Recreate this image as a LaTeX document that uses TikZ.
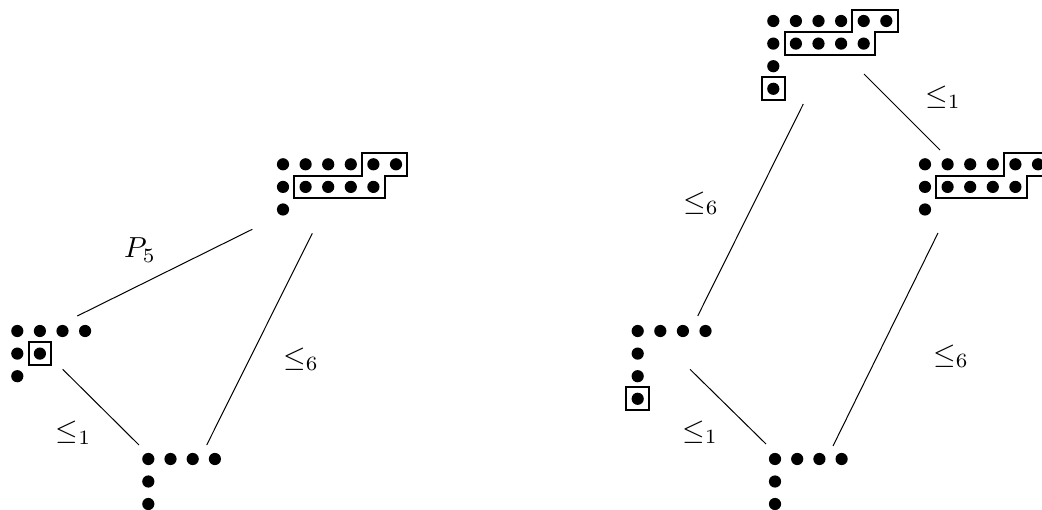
\documentclass[tikz,border=0pt]{standalone}
\begin{document}
\begin{tikzpicture}[x=1pt,y=-1pt,
  boxline/.style={line width=2pt, line join=miter},
  link/.style={line width=1pt},
  lab/.style={scale=2.9, inner sep=0pt}]
\useasboundingbox (0,0) rectangle (1042,510);
\clip (0,0) rectangle (1042,510);
\def\s{22.6}
\def\h{11.3}
\def\r{6.1pt}
% ---------- left diagram ----------
% G1: top group with staircase
\begin{scope}[shift={(283,164.3)}]
  \foreach \c/\rr in {0/0,1/0,2/0,3/0,4/0,5/0,0/1,1/1,2/1,3/1,4/1,0/2}
    \fill (\c*\s,\rr*\s) circle[radius=\r];
  \draw[boxline] (4*\s-\h,-\h) -- ++(2*\s,0) -- ++(0,\s) -- ++(-\s,0) -- ++(0,\s)
    -- ++(-4*\s,0) -- ++(0,-\s) -- ++(3*\s,0) -- cycle;
\end{scope}
% G2: left group
\begin{scope}[shift={(17.3,331)}]
  \foreach \c/\rr in {0/0,1/0,2/0,3/0,0/1,1/1,0/2}
    \fill (\c*\s,\rr*\s) circle[radius=\r];
  \draw[boxline] (\s-\h,\s-\h) rectangle (\s+\h,\s+\h);
\end{scope}
% G3: bottom group
\begin{scope}[shift={(148.3,459)}]
  \foreach \c/\rr in {0/0,1/0,2/0,3/0,0/1,0/2}
    \fill (\c*22.2,\rr*22.5) circle[radius=\r];
\end{scope}
% ---------- right diagram ----------
% G4: top group
\begin{scope}[shift={(773.3,21)}]
  \foreach \c/\rr in {0/0,1/0,2/0,3/0,4/0,5/0,0/1,1/1,2/1,3/1,4/1,0/2,0/3}
    \fill (\c*\s,\rr*\s) circle[radius=\r];
  \draw[boxline] (4*\s-\h,-\h) -- ++(2*\s,0) -- ++(0,\s) -- ++(-\s,0) -- ++(0,\s)
    -- ++(-4*\s,0) -- ++(0,-\s) -- ++(3*\s,0) -- cycle;
  \draw[boxline] (-\h,3*\s-\h) rectangle (\h,3*\s+\h);
\end{scope}
% G5: right-middle group
\begin{scope}[shift={(925,164.3)}]
  \foreach \c/\rr in {0/0,1/0,2/0,3/0,4/0,5/0,0/1,1/1,2/1,3/1,4/1,0/2}
    \fill (\c*\s,\rr*\s) circle[radius=\r];
  \draw[boxline] (4*\s-\h,-\h) -- ++(2*\s,0) -- ++(0,\s) -- ++(-\s,0) -- ++(0,\s)
    -- ++(-4*\s,0) -- ++(0,-\s) -- ++(3*\s,0) -- cycle;
\end{scope}
% G6: right-left group
\begin{scope}[shift={(637.7,331)}]
  \foreach \c/\rr in {0/0,1/0,2/0,3/0,0/1,0/2,0/3}
    \fill (\c*\s,\rr*\s) circle[radius=\r];
  \draw[boxline] (-\h,3*\s-\h) rectangle (\h,3*\s+\h);
\end{scope}
% G7: right-bottom group
\begin{scope}[shift={(775,459)}]
  \foreach \c/\rr in {0/0,1/0,2/0,3/0,0/1,0/2}
    \fill (\c*22.2,\rr*22.5) circle[radius=\r];
\end{scope}
% ---------- connectors ----------
\coordinate (a1) at (252.3,229.3); \coordinate (a2) at (77.3,316);
\coordinate (b1) at (312.3,233.3); \coordinate (b2) at (206.7,445);
\coordinate (c1) at (62.7,369.3);  \coordinate (c2) at (139,445);
\coordinate (d1) at (803.3,104);   \coordinate (d2) at (697.7,316);
\coordinate (e1) at (864,74);      \coordinate (e2) at (940,150);
\coordinate (f1) at (938,233);     \coordinate (f2) at (833,446);
\coordinate (g1) at (690,369.3);   \coordinate (g2) at (766,444);
\draw[link] (a1) -- (a2);
\draw[link] (b1) -- (b2);
\draw[link] (c1) -- (c2);
\draw[link] (d1) -- (d2);
\draw[link] (e1) -- (e2);
\draw[link] (f1) -- (f2);
\draw[link] (g1) -- (g2);
% ---------- labels ----------
\node[lab] (lp5) at (140,250) {$P_5$};
\node[lab] (l1a) at (73.5,432.7) {$\leq_1$};
\node[lab] (l6a) at (301,359) {$\leq_6$};
\node[lab] (l6b) at (701,203) {$\leq_6$};
\node[lab] (l1b) at (943,97) {$\leq_1$};
\node[lab] (l6c) at (951,356) {$\leq_6$};
\node[lab] (l1c) at (700,432) {$\leq_1$};
\end{tikzpicture}
\end{document}
